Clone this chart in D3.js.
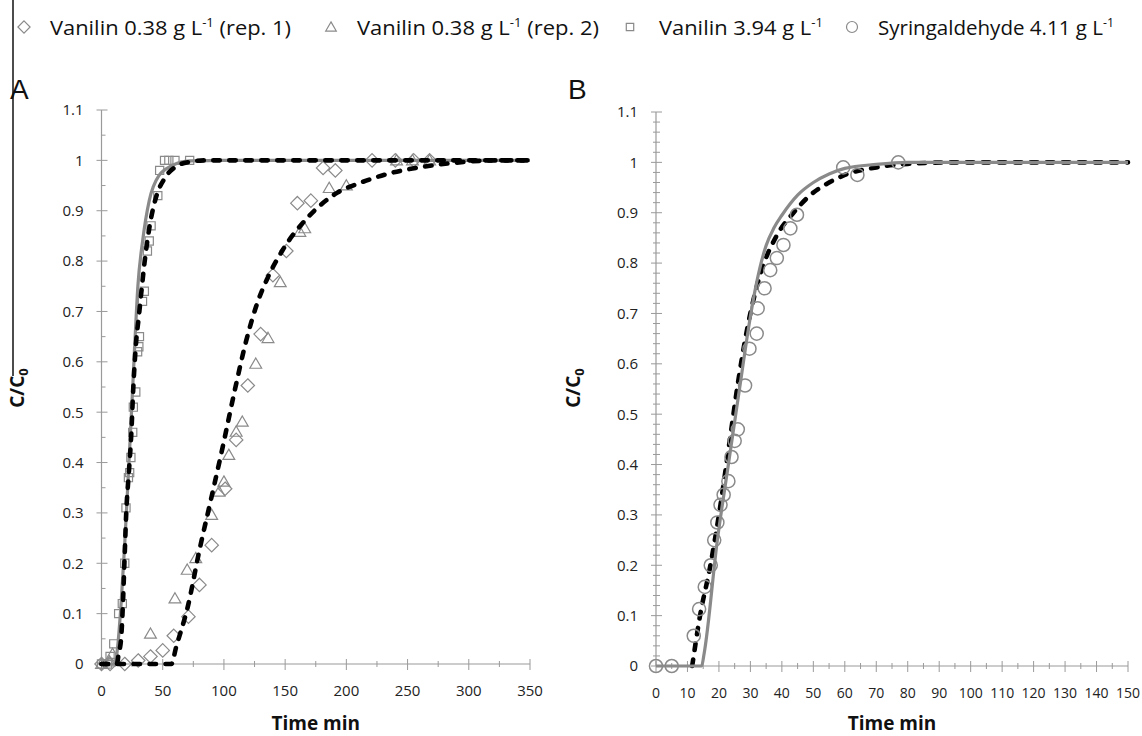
<!DOCTYPE html>
<html><head><meta charset="utf-8">
<script src="https://cdn.jsdelivr.net/npm/d3@7/dist/d3.min.js"></script>
<style>
html,body{margin:0;padding:0;background:#fff;}
svg{display:block;}
</style></head>
<body>
<svg id="chart" width="1142" height="736"></svg>
<script>
// ---------- DATA ----------
const legendLabels = ["Vanilin 0.38 g L", "Vanilin 0.38 g L", "Vanilin 3.94 g L", "Syringaldehyde 4.11 g L"];
const legendSuffix = [" (rep. 1)", " (rep. 2)", "", ""];

const xTicksA = [0, 50, 100, 150, 200, 250, 300, 350];
const xMinorA = [25, 75, 125, 175, 225, 275, 325];
const yTicks = [0, 0.1, 0.2, 0.3, 0.4, 0.5, 0.6, 0.7, 0.8, 0.9, 1, 1.1];
const yTickLabels = ["0", "0.1", "0.2", "0.3", "0.4", "0.5", "0.6", "0.7", "0.8", "0.9", "1", "1.1"];
const yMinorA = [0.05, 0.15, 0.25, 0.35, 0.45, 0.55, 0.65, 0.75, 0.85, 0.95, 1.05];
const xTicksB = [0, 10, 20, 30, 40, 50, 60, 70, 80, 90, 100, 110, 120, 130, 140, 150];
const xMinorB = [5, 15, 25, 35, 45, 55, 65, 75, 85, 95, 105, 115, 125, 135, 145];
const yMinorB = [0.02,0.04,0.06,0.08,0.12,0.14,0.16,0.18,0.22,0.24,0.26,0.28,0.32,0.34,0.36,0.38,
                 0.42,0.44,0.46,0.48,0.52,0.54,0.56,0.58,0.62,0.64,0.66,0.68,0.72,0.74,0.76,0.78,
                 0.82,0.84,0.86,0.88,0.92,0.94,0.96,0.98,1.02,1.04,1.06,1.08];

// Panel A observations [time, C/C0]
const vanRep1 = [[0,0],[7,0],[19,0],[30,0.007],[40,0.015],[50,0.027],[59,0.056],[71,0.094],[80,0.157],
  [90,0.236],[101,0.348],[110,0.445],[119.5,0.553],[130,0.655],[140,0.772],[151,0.82],[160,0.915],
  [171,0.92],[181,0.985],[191,0.98],[221,1.0],[240,1.0],[255,1.0],[268,1.0]];
const vanRep2 = [[0,0],[6.5,0.005],[9,0.02],[40,0.06],[60,0.13],[70,0.187],[77,0.21],[90,0.296],
  [96,0.342],[100,0.362],[104,0.415],[110,0.461],[115,0.481],[126,0.596],[136,0.647],[146,0.758],
  [162,0.858],[166,0.865],[186,0.945],[200,0.95],[241,1.0],[254,1.0],[268,1.0]];
const van394 = [[0,0],[5,0],[7,0.015],[10,0.04],[14,0.1],[17,0.12],[19,0.2],[20,0.31],[22,0.37],
  [23,0.38],[24,0.41],[25.5,0.46],[26,0.51],[28,0.54],[29.5,0.62],[30.5,0.63],[31,0.65],[33.5,0.72],
  [35,0.74],[37.5,0.82],[39,0.84],[40.5,0.87],[46,0.93],[47.5,0.98],[51.5,1],[55,1],[60,1],[72,1]];
// Panel A model curves
const fitFastGrey = [[0,0],[11,0],[13,0.03],[16,0.12],[19,0.24],[22,0.38],[24.5,0.5],[26.5,0.6],
  [29.7,0.75],[33.7,0.842],[39,0.92],[47,0.97],[58,0.99],[72,0.999],[100,1],[350,1]];
const fitFastDash = [[0,0],[12.5,0],[14,0.02],[16,0.05],[17.4,0.114],[18.8,0.207],[20.2,0.3],
  [22.3,0.379],[24.3,0.455],[26,0.55],[28.3,0.64],[30.5,0.69],[32.4,0.735],[35.1,0.796],[39.2,0.868],
  [44.7,0.928],[51.5,0.964],[61,0.988],[72,0.997],[85,1],[350,1]];
const fitSlowDash = [[0,0],[57,0],[61,0.034],[70.5,0.114],[80,0.226],[90,0.333],[99,0.431],[109,0.545],
  [118,0.64],[127,0.715],[135,0.763],[148,0.822],[169,0.888],[192,0.935],[212,0.956],[235,0.974],
  [262,0.987],[284,0.994],[325,1],[350,1]];

// Panel B observations
const syrin = [[0,0],[5,0],[12,0.06],[13.7,0.113],[15.5,0.157],[17.4,0.2],[18.5,0.25],[19.5,0.285],
  [20.5,0.32],[21.5,0.34],[23,0.367],[24,0.415],[25,0.447],[26,0.47],[28.3,0.557],[29.7,0.63],
  [32,0.66],[32.3,0.71],[34.5,0.75],[36.3,0.786],[38.4,0.81],[40.5,0.836],[42.7,0.869],[44.8,0.896],
  [59.5,0.99],[64,0.975],[77,1.0]];
const fitBGrey = [[0,0],[14.5,0],[15.3,0.025],[19.5,0.25],[23,0.4],[27,0.57],[29,0.655],[31,0.73],
  [33,0.79],[35,0.835],[37.5,0.87],[40,0.895],[45,0.935],[50,0.96],[55,0.977],[60,0.988],[70,0.996],[80,1],[150,1]];
const fitBDash = [[11.5,0],[14,0.1],[17.2,0.197],[20.4,0.316],[23.6,0.455],[26,0.56],[29,0.67],
  [33,0.775],[38.4,0.855],[43.7,0.9],[48.5,0.932],[55,0.96],[60,0.975],[70,0.99],[80,0.997],[95,1],[150,1]];

// ---------- DRAW ----------
const svg = d3.select("#chart");
const GREY = "#8a8a8a";
const AXIS = "#9a9a9a";
const tickFont = "'Open Sans', 'DejaVu Sans', sans-serif";

// stray left border line
svg.append("line").attr("x1",13).attr("x2",13).attr("y1",0).attr("y2",376)
  .attr("stroke","#111").attr("stroke-width",1.5);

function symbolPath(kind, size) {
  const map = {diamond:d3.symbolDiamond2, triangle:d3.symbolTriangle2, square:d3.symbolSquare2, circle:d3.symbolCircle};
  return d3.symbol().type(map[kind]).size(size)();
}

// Legend
const legendItems = [
  {sym:"diamond", size:95, sx:24, tx:50, tw:241},
  {sym:"triangle", size:80, sx:331, tx:357, tw:242},
  {sym:"square", size:70, sx:630, tx:659, tw:164},
  {sym:"circle", size:95, sx:852, tx:878, tw:236}
];
legendItems.forEach((it, i) => {
  svg.append("path").attr("d", symbolPath(it.sym, it.size))
    .attr("transform", `translate(${it.sx},${it.sym==="triangle"?28:27})`)
    .attr("fill","none").attr("stroke",GREY).attr("stroke-width",1.2);
  const t = svg.append("text").attr("x", it.tx).attr("y", 35)
    .attr("font-family","'Liberation Sans Narrow','Open Sans',sans-serif").attr("font-size",20).attr("fill","#111")
    .attr("textLength", it.tw).attr("lengthAdjust","spacingAndGlyphs");
  t.append("tspan").text(legendLabels[i]);
  t.append("tspan").attr("font-size",12).attr("dy",-8).text("-1");
  if (legendSuffix[i]) t.append("tspan").attr("dy",8).text(legendSuffix[i]);
});

function drawPanel(cfg) {
  const g = svg.append("g");
  const x = cfg.x, y = cfg.y;
  const x0 = x.range()[0], x1 = x.range()[1], y0 = y.range()[0], y1 = y.range()[1];
  g.append("line").attr("x1",x0).attr("x2",x0).attr("y1",y0).attr("y2",y1).attr("stroke",AXIS).attr("stroke-width",1.2);
  g.append("line").attr("x1",x0).attr("x2",x1).attr("y1",y0).attr("y2",y0).attr("stroke",AXIS).attr("stroke-width",1.2);
  g.selectAll(".ymaj").data(cfg.yTicks).enter().append("line")
    .attr("x1",x0-5).attr("x2",x0+6).attr("y1",d=>y(d)).attr("y2",d=>y(d)).attr("stroke",AXIS);
  g.selectAll(".ymin").data(cfg.yMinor).enter().append("line")
    .attr("x1",x0-(cfg.minorBoth?3:0)).attr("x2",x0+4).attr("y1",d=>y(d)).attr("y2",d=>y(d)).attr("stroke",AXIS);
  g.selectAll(".ylab").data(cfg.yTicks).enter().append("text")
    .attr("x",x0-18).attr("y",d=>y(d)).attr("dy","0.36em").attr("text-anchor","end")
    .attr("font-family",tickFont).attr("font-size",15).attr("fill","#222")
    .text((d,i)=>yTickLabels[i]);
  g.selectAll(".xmaj").data(cfg.xTicks).enter().append("line")
    .attr("x1",d=>x(d)).attr("x2",d=>x(d)).attr("y1",y0-5).attr("y2",y0+6).attr("stroke",AXIS);
  g.selectAll(".xmin").data(cfg.xMinor).enter().append("line")
    .attr("x1",d=>x(d)).attr("x2",d=>x(d)).attr("y1",y0-3).attr("y2",y0+3).attr("stroke",AXIS);
  g.selectAll(".xlab").data(cfg.xTicks).enter().append("text")
    .attr("x",d=>x(d)).attr("y",y0+27).attr("dy","0.36em").attr("text-anchor","middle")
    .attr("font-family",tickFont).attr("font-size",cfg.xFont).attr("fill","#222")
    .text(d=>d);
  g.append("text").attr("x",(x0+x1)/2).attr("y",730).attr("text-anchor","middle")
    .attr("font-family",tickFont).attr("font-weight","bold").attr("font-size",19).attr("fill","#111").text("Time min");
  const yt = g.append("text").attr("transform",`translate(${cfg.ytx},${cfg.yty}) rotate(-90)`)
    .attr("text-anchor","middle").attr("font-family",tickFont).attr("font-weight","bold").attr("font-size",19).attr("fill","#111");
  yt.append("tspan").text("C/C");
  yt.append("tspan").attr("font-size",13).attr("dy",4).text("0");
  g.append("text").attr("x",cfg.lx).attr("y",99).attr("font-family","'Liberation Sans',Arial,sans-serif")
    .attr("font-size",28).attr("fill","#111").text(cfg.letter);
  return g;
}

const line = (x,y) => d3.line().x(d=>x(d[0])).y(d=>y(d[1])).curve(d3.curveMonotoneX);

function drawSolid(g, data, x, y) {
  g.append("path").attr("d", line(x,y)(data)).attr("fill","none")
    .attr("stroke",GREY).attr("stroke-width",3.2).attr("stroke-linejoin","round");
}
function drawDash(g, data, x, y) {
  g.append("path").attr("d", line(x,y)(data)).attr("fill","none")
    .attr("stroke","#000").attr("stroke-width",4.6).attr("stroke-linecap","round")
    .attr("stroke-dasharray","6.5,9.5");
}
function drawMarks(g, data, kind, size, x, y, sw) {
  g.selectAll(null).data(data).enter().append("path")
    .attr("d", symbolPath(kind, size))
    .attr("transform", d=>`translate(${x(d[0])},${y(d[1]) + (kind==="triangle"?1:0)})`)
    .attr("fill","none").attr("stroke",GREY).attr("stroke-width",sw);
}

// Panel A
const xA = d3.scaleLinear().domain([0,350]).range([101.5,530]);
const yA = d3.scaleLinear().domain([0,1.1]).range([664,110]);
const gA = drawPanel({x:xA, y:yA, yTicks:yTicks, yMinor:yMinorA, xTicks:xTicksA, xMinor:xMinorA,
  xFont:15, ytx:24, yty:388, lx:10, letter:"A"});
drawSolid(gA, fitFastGrey, xA, yA);
drawMarks(gA, vanRep1, "diamond", 115, xA, yA, 1.2);
drawMarks(gA, vanRep2, "triangle", 100, xA, yA, 1.2);
drawMarks(gA, van394, "square", 85, xA, yA, 1.2);
drawDash(gA, fitFastDash, xA, yA);
drawDash(gA, fitSlowDash, xA, yA);

// Panel B
const xB = d3.scaleLinear().domain([0,150]).range([656,1128]);
const yB = d3.scaleLinear().domain([0,1.1]).range([666,112]);
const gB = drawPanel({x:xB, y:yB, yTicks:yTicks, yMinor:yMinorB, xTicks:xTicksB, xMinor:xMinorB,
  xFont:14, minorBoth:true, ytx:580, yty:388, lx:568, letter:"B"});
drawDash(gB, fitBDash, xB, yB);
drawSolid(gB, fitBGrey, xB, yB);
drawMarks(gB, syrin, "circle", 135, xB, yB, 1.5);
</script>
</body></html>
